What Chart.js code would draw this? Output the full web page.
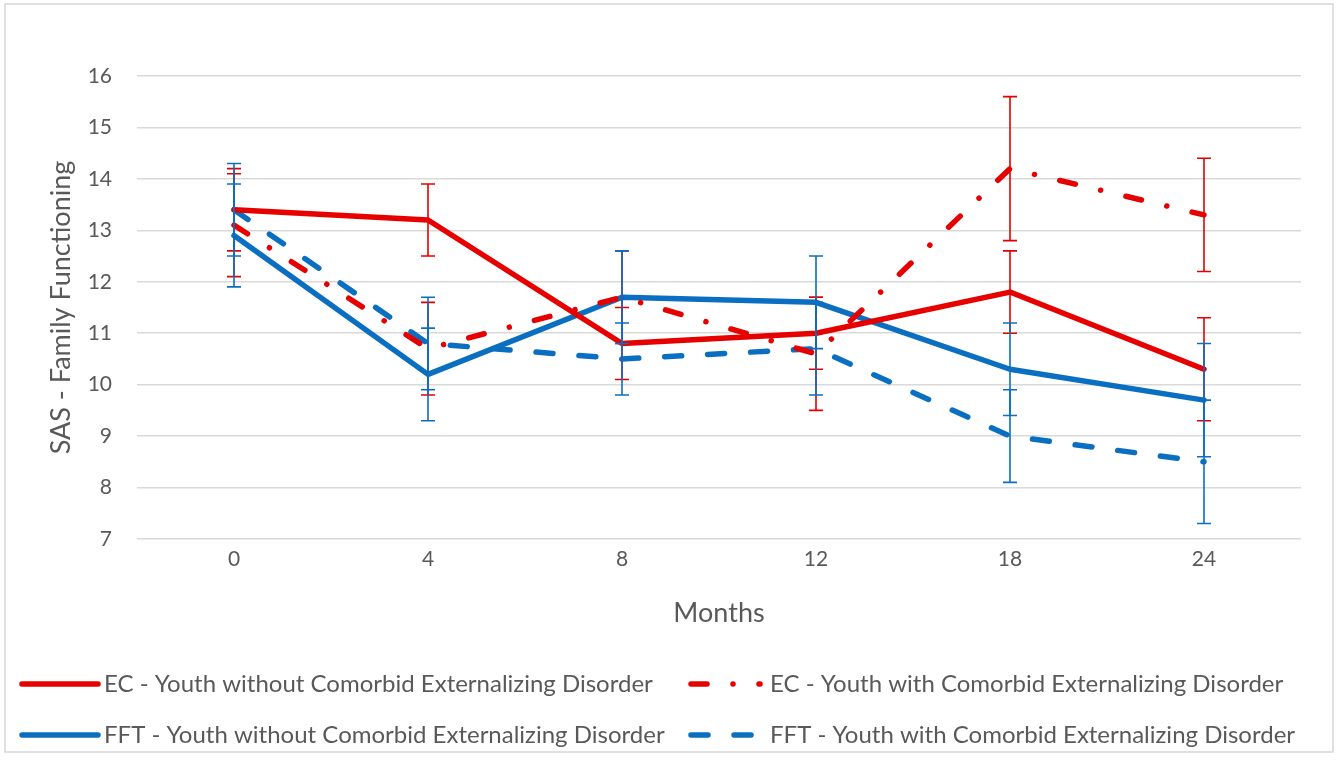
<!DOCTYPE html>
<html>
<head>
<meta charset="utf-8">
<script src="https://cdn.jsdelivr.net/npm/chart.js@4/dist/chart.umd.min.js"></script>
<style>
  html, body { margin: 0; padding: 0; background: #ffffff; }
  #wrap { width: 1341px; height: 760px; position: relative; }
</style>
</head>
<body>
<div id="wrap"><canvas id="chart"></canvas></div>
<script>
// Assessment points (months)
const months = ['0', '4', '8', '12', '18', '24'];

// Series names
const seriesNames = [
  'EC - Youth without Comorbid Externalizing Disorder',
  'EC - Youth with Comorbid Externalizing Disorder',
  'FFT - Youth without Comorbid Externalizing Disorder',
  'FFT - Youth with Comorbid Externalizing Disorder'
];

// SAS family functioning means
const ecWithout  = [13.4, 13.2, 10.8, 11.0, 11.8, 10.3];
const ecWith     = [13.1, 10.7, 11.7, 10.6, 14.2, 13.3];
const fftWithout = [12.9, 10.2, 11.7, 11.6, 10.3, 9.7];
const fftWith    = [13.4, 10.8, 10.5, 10.7, 9.0, 8.5];

// Error bar half-widths (+/-)
const ecWithoutErr  = [0.8, 0.7, 0.7, 0.7, 0.8, 1.0];
const ecWithErr     = [1.0, 0.9, 0.9, 1.1, 1.4, 1.1];
const fftWithoutErr = [1.0, 0.9, 0.9, 0.9, 0.9, 1.1];
const fftWithErr    = [0.9, 0.9, 0.7, 0.9, 0.9, 1.2];

// Y axis range
const yMin = 7, yMax = 16, yStep = 1;

const RED = '#e60000';
const BLUE = '#0b6fc1';
const TEXT = '#595959';
const GRID = '#d9d9d9';
const FONT = 'Lato, "Open Sans", sans-serif';

const DASH_DOT = [16, 26, 0.01, 26];
const DASH = [17, 26];

const base = {
  borderWidth: 5.5, pointRadius: 0, pointHoverRadius: 0, fill: false,
  tension: 0, borderCapStyle: 'round', borderJoinStyle: 'round'
};

const datasets = [
  { label: seriesNames[0], data: ecWithout,  err: ecWithoutErr,  borderColor: RED,  backgroundColor: RED,  borderDash: [] },
  { label: seriesNames[1], data: ecWith,     err: ecWithErr,     borderColor: RED,  backgroundColor: RED,  borderDash: DASH_DOT },
  { label: seriesNames[2], data: fftWithout, err: fftWithoutErr, borderColor: BLUE, backgroundColor: BLUE, borderDash: [] },
  { label: seriesNames[3], data: fftWith,    err: fftWithErr,    borderColor: BLUE, backgroundColor: BLUE, borderDash: DASH }
].map(d => Object.assign({}, base, d));

// White page with a thin grey frame
const frame = {
  id: 'frame',
  beforeDraw(chart) {
    const ctx = chart.ctx;
    ctx.save();
    ctx.fillStyle = '#ffffff';
    ctx.fillRect(0, 0, chart.width, chart.height);
    ctx.strokeStyle = '#d6d6d6';
    ctx.lineWidth = 1.5;
    ctx.strokeRect(5, 4, 1328, 748);
    ctx.restore();
  }
};

// Vertical +/- error bars with caps
const errorBars = {
  id: 'errorBars',
  afterDatasetsDraw(chart) {
    const { ctx, scales: { x, y } } = chart;
    chart.data.datasets.forEach(ds => {
      ctx.save();
      ctx.strokeStyle = ds.borderColor;
      ctx.lineWidth = 1.6;
      ctx.setLineDash([]);
      ctx.lineCap = 'butt';
      ds.data.forEach((v, j) => {
        const px = x.getPixelForValue(j);
        const hi = y.getPixelForValue(v + ds.err[j]);
        const lo = y.getPixelForValue(v - ds.err[j]);
        ctx.beginPath();
        ctx.moveTo(px, hi); ctx.lineTo(px, lo);
        ctx.moveTo(px - 7, hi); ctx.lineTo(px + 7, hi);
        ctx.moveTo(px - 7, lo); ctx.lineTo(px + 7, lo);
        ctx.stroke();
      });
      ctx.restore();
    });
  }
};

// Two-column legend under the axis
const gridLegend = {
  id: 'gridLegend',
  afterDraw(chart) {
    const ctx = chart.ctx;
    const cols = [{ x0: 22, x1: 98, tx: 104 }, { x0: 691, x1: 760, tx: 770 }];
    const rows = [684, 735];
    chart.data.datasets.forEach((ds, i) => {
      const c = cols[i % 2], yy = rows[Math.floor(i / 2)];
      ctx.save();
      ctx.strokeStyle = ds.borderColor;
      ctx.lineWidth = 5.5;
      ctx.lineCap = 'round';
      ctx.setLineDash(ds.borderDash || []);
      ctx.beginPath();
      ctx.moveTo(c.x0, yy); ctx.lineTo(c.x1, yy);
      ctx.stroke();
      ctx.setLineDash([]);
      ctx.fillStyle = TEXT;
      ctx.font = '24px ' + FONT;
      ctx.textBaseline = 'middle';
      ctx.textAlign = 'left';
      ctx.fillText(ds.label, c.tx, yy);
      ctx.restore();
    });
  }
};

new Chart(document.getElementById('chart'), {
  type: 'line',
  data: { labels: months, datasets },
  plugins: [frame, errorBars, gridLegend],
  options: {
    responsive: true,
    maintainAspectRatio: false,
    devicePixelRatio: 1,
    animation: false,
    events: [],
    layout: { padding: { left: 0, right: 40, top: 76, bottom: 121 } },
    plugins: { legend: { display: false }, tooltip: { enabled: false } },
    scales: {
      x: {
        type: 'category',
        offset: true,
        grid: { display: false, drawTicks: false },
        border: { display: false },
        ticks: { color: TEXT, font: { family: FONT, size: 21 }, padding: 8 },
        title: { display: true, text: 'Months', color: TEXT, font: { family: FONT, size: 27 }, padding: { top: 0, bottom: 10 } },
        afterFit(scale) { scale.height = 100; }
      },
      y: {
        min: yMin, max: yMax,
        grid: { color: GRID, lineWidth: 1.5, drawTicks: false },
        border: { display: false },
        ticks: { stepSize: yStep, color: TEXT, font: { family: FONT, size: 21 }, padding: 25 },
        title: { display: true, text: 'SAS - Family Functioning', color: TEXT, font: { family: FONT, size: 27 }, padding: { top: 45, bottom: 0 } },
        afterFit(scale) { scale.width = 137; }
      }
    }
  }
});
</script>
</body>
</html>
